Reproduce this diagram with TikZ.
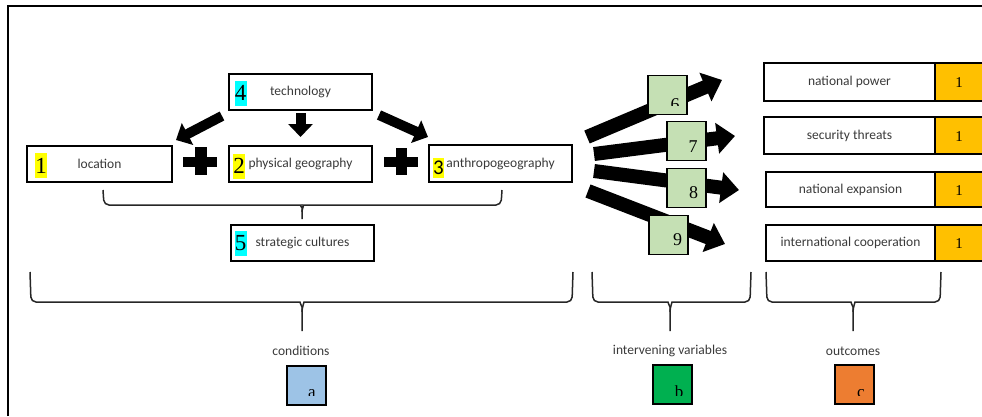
\documentclass[tikz,border=0pt]{standalone}
\usepackage{fontspec}
\setmainfont{Carlito}
\newfontfamily\numfont{Liberation Serif}
\usetikzlibrary{arrows.meta}
\definecolor{hlyellow}{HTML}{FFFF00}
\definecolor{hlcyan}{HTML}{00FFFF}
\definecolor{boxgreen}{HTML}{C5E0B4}
\definecolor{outorange}{HTML}{FFC000}
\definecolor{sqblue}{HTML}{9DC3E6}
\definecolor{sqgreen}{HTML}{00B050}
\definecolor{sqorange}{HTML}{ED7D31}
\definecolor{labelgray}{HTML}{3A3A3A}
\begin{document}
\begin{tikzpicture}[x=1pt,y=-1pt,
  lbl/.style={font=\fontsize{13.5}{15}\selectfont, text=labelgray},
  box/.style={draw=black, line width=1.7pt, fill=white, inner sep=0pt, lbl},
  hl/.style={inner sep=0pt, minimum width=12pt, minimum height=25pt, text=black,
    font=\numfont\fontsize{23}{23}\selectfont},
  gbox/.style={draw=black, line width=1.5pt, fill=boxgreen, minimum size=39pt, inner sep=0pt},
  obox/.style={draw=black, line width=1.7pt, fill=outorange, inner sep=0pt},
  sq/.style={draw=black, line width=1.5pt, minimum size=39pt, inner sep=0pt},
  digit/.style={inner sep=0pt, font=\numfont\fontsize{18}{18}\selectfont, text=black},
  letter/.style={inner sep=0pt, font=\numfont\fontsize{17}{17}\selectfont, text=black},
  onum/.style={inner sep=0pt, font=\numfont\fontsize{15}{15}\selectfont, text=black},
  tarrow/.style={line width=10pt, -{Triangle[length=13pt,width=24pt]}},
  farrow/.style={line width=14pt, -{Triangle[length=18pt,width=30pt]}},
  brace/.style={line width=1.5pt, draw=black!85, rounded corners=5pt},
]
\useasboundingbox (0,0) rectangle (982,416);
% frame
\draw[line width=1.8pt] (8,416) -- (8,6) -- (982,6);

% condition boxes
\node[box, minimum width=143pt, minimum height=36pt] (tech) at (300.5,92) {technology};
\node[box, minimum width=145pt, minimum height=36pt] (loc) at (99.5,164) {location};
\node[box, minimum width=143pt, minimum height=36pt] (phys) at (300.5,164) {physical geography};
\node[box, minimum width=143pt, minimum height=37pt] (anth) at (500.5,163.5) {anthropogeography};
\node[box, minimum width=143pt, minimum height=36pt] (strat) at (302.5,243) {strategic cultures};

\node[hl, fill=hlcyan] (n4) at (240.5,93) {4};
\node[hl, fill=hlyellow] (n1) at (41,165.5) {1};
\node[hl, fill=hlyellow] (n2) at (239,166) {2};
\node[hl, fill=hlyellow, minimum width=11pt, minimum height=20pt,
  font=\fontsize{21}{21}\selectfont] (n3) at (438.5,168) {3};
\node[hl, fill=hlcyan] (n5) at (240.5,243.5) {5};

% plus signs
\fill (183,157) rectangle (217,167);
\fill (195,147) rectangle (207,175);
\fill (384,157) rectangle (418,167);
\fill (396,148) rectangle (407,175);

% technology arrows
\coordinate (t1s) at (222,116); \coordinate (t1e) at (176,140);
\coordinate (t2s) at (300.5,113); \coordinate (t2e) at (300.5,137);
\coordinate (t3s) at (379,115); \coordinate (t3e) at (428,137);
\draw[tarrow] (t1s) -- (t1e);
\draw[tarrow] (t2s) -- (t2e);
\draw[tarrow] (t3s) -- (t3e);

% small brace
\draw[brace] (103,190) -- (104,205) -- (296,205) to[out=0,in=90] (302,212) -- (302,219);
\draw[brace] (502,190) -- (501,205) -- (308,205) to[out=180,in=90] (302,212);

% big braces
\draw[brace] (30,272) -- (31,302) -- (295,302) to[out=0,in=90] (302,312) -- (302,331);
\draw[brace] (573,272) -- (572,302) -- (309,302) to[out=180,in=90] (302,312);
\draw[brace] (592,272) -- (593,302) -- (663,302) to[out=0,in=90] (670,312) -- (670,331);
\draw[brace] (751,272) -- (750,302) -- (677,302) to[out=180,in=90] (670,312);
\draw[brace] (766,272) -- (767,302) -- (846,302) to[out=0,in=90] (853,312) -- (853,331);
\draw[brace] (941,272) -- (940,302) -- (860,302) to[out=180,in=90] (853,312);

% fan arrows
\coordinate (f6s) at (587,137); \coordinate (f6e) at (722,80);
\coordinate (f7s) at (594,154); \coordinate (f7e) at (735,136);
\coordinate (f8s) at (594,171); \coordinate (f8e) at (739,190);
\coordinate (f9s) at (588,191); \coordinate (f9e) at (725,244);
\draw[farrow] (f6s) -- (f6e);
\draw[farrow] (f7s) -- (f7e);
\draw[farrow] (f8s) -- (f8e);
\draw[farrow] (f9s) -- (f9e);

% green boxes
\node[gbox] (g6) at (667.5,95) {};
\node[gbox] (g7) at (686.5,141) {};
\node[gbox] (g8) at (686.5,188) {};
\node[gbox] (g9) at (668.5,235) {};
\begin{scope}
  \clip (649,77) rectangle (686,105);
  \node[digit, anchor=base] (d6) at (675,110) {6};
\end{scope}
\node[digit, anchor=base] (d7) at (693,152) {7};
\node[digit, anchor=base] (d8) at (693.5,198) {8};
\node[digit, anchor=base] (d9) at (677.5,245) {9};

% outcome boxes
\node[box, minimum width=171pt, minimum height=38pt] (o1) at (849.5,82) {national power};
\node[box, minimum width=171pt, minimum height=37pt] (o2) at (849.5,135.5) {security threats};
\node[box, minimum width=169pt, minimum height=35pt] (o3) at (850.5,189.5) {national expansion};
\node[box, minimum width=169pt, minimum height=36pt] (o4) at (850.5,243) {international cooperation};
\node[obox, minimum width=52pt, minimum height=38pt] (p1) at (961,82) {};
\node[obox, minimum width=52pt, minimum height=37pt] (p2) at (961,135.5) {};
\node[obox, minimum width=52pt, minimum height=35pt] (p3) at (961,189.5) {};
\node[obox, minimum width=52pt, minimum height=36pt] (p4) at (961,243) {};
\node[onum] (q1) at (959,83) {1};
\node[onum] (q2) at (959,136.5) {1};
\node[onum] (q3) at (959,190.5) {1};
\node[onum] (q4) at (959,244) {1};

% category labels
\node[lbl] (cond) at (301,351) {conditions};
\node[lbl] (interv) at (670,351) {intervening variables};
\node[lbl] (outc) at (853,351) {outcomes};

% letter squares
\node[sq, fill=sqblue] (sa) at (306.5,385.5) {};
\node[sq, fill=sqgreen] (sb) at (672.5,384.5) {};
\node[sq, fill=sqorange] (sc) at (854.5,384.5) {};
\begin{scope}
  \clip (288,367) rectangle (325,395.5);
  \node[letter, anchor=base] (la) at (312,397.5) {a};
\end{scope}
\begin{scope}
  \clip (654,366) rectangle (691,395);
  \node[letter, anchor=base] (lb) at (679,397) {b};
\end{scope}
\begin{scope}
  \clip (836,366) rectangle (873,395);
  \node[letter, anchor=base] (lc) at (861,397) {c};
\end{scope}
\end{tikzpicture}
\end{document}
